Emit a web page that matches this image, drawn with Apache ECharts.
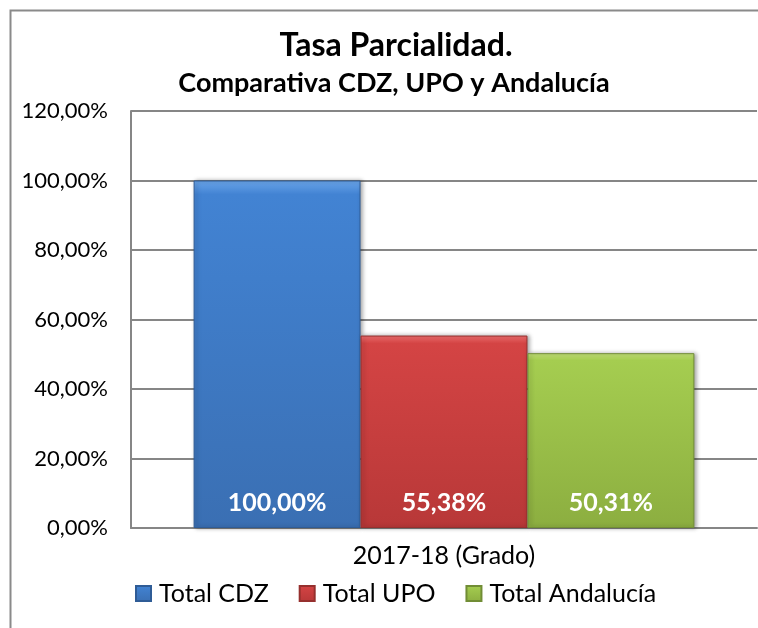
<!DOCTYPE html>
<html>
<head>
<meta charset="utf-8">
<title>Tasa Parcialidad</title>
<script src="https://cdn.jsdelivr.net/npm/echarts@6/dist/echarts.min.js"></script>
<style>
  html, body { margin: 0; padding: 0; background: #fff; }
  #chart { width: 758px; height: 628px; }
</style>
</head>
<body>
<div id="chart"></div>
<script>
// datos
var categories = ['2017-18 (Grado)']
var seriesNames = ['Total CDZ', 'Total UPO', 'Total Andalucía']
var totalCDZ = [1.0]
var totalUPO = [0.5538]
var totalAndalucia = [0.5031]
var yTicks = [0, 0.2, 0.4, 0.6, 0.8, 1.0, 1.2]

var FONT = 'Lato, "Open Sans", sans-serif'

function pct (v) {
  return (v * 100).toFixed(2).replace('.', ',') + '%'
}

function barColor (top, mid, bottom) {
  return new echarts.graphic.LinearGradient(0, 0, 0, 1, [
    { offset: 0, color: top },
    { offset: 0.04, color: mid },
    { offset: 1, color: bottom }
  ])
}

var colors = [
  barColor('#6aa5ea', '#4283d3', '#3a6fb3'),
  barColor('#f07070', '#d44444', '#b83838'),
  barColor('#c4e27a', '#a5cd50', '#8cae40')
]
var borders = ['#2f5c96', '#96302e', '#718d35']
var dataSets = [totalCDZ, totalUPO, totalAndalucia]

var chart = echarts.init(document.getElementById('chart'))

var option = {
  backgroundColor: '#fff',
  animation: false,
  title: [
    {
      text: 'Tasa Parcialidad.',
      left: 391,
      top: 25,
      textAlign: 'center',
      textStyle: { fontFamily: FONT, fontSize: 32, fontWeight: 'bold', color: '#000' }
    },
    {
      text: 'Comparativa CDZ, UPO y Andalucía',
      left: 389,
      top: 65,
      textAlign: 'center',
      textStyle: { fontFamily: FONT, fontSize: 27, fontWeight: 'bold', color: '#000' }
    }
  ],
  graphic: [
    {
      type: 'rect',
      left: 8,
      top: 8,
      shape: { width: 800, height: 700 },
      style: { fill: 'none', stroke: '#8a8a8a', lineWidth: 2 },
      silent: true
    }
  ],
  legend: {
    data: seriesNames,
    left: 130,
    top: 576,
    itemWidth: 15,
    itemHeight: 15,
    itemGap: 30,
    icon: 'rect',
    textStyle: { fontFamily: FONT, fontSize: 25, color: '#000', padding: [0, 0, 0, 3] }
  },
  grid: {
    left: 131,
    right: 1,
    top: 111,
    bottom: 100
  },
  xAxis: {
    type: 'category',
    data: categories,
    axisTick: { show: false },
    axisLine: { lineStyle: { color: '#868686', width: 2 } },
    axisLabel: { fontFamily: FONT, fontSize: 25, color: '#000', margin: 15 }
  },
  yAxis: {
    type: 'value',
    min: yTicks[0],
    max: yTicks[yTicks.length - 1],
    interval: 0.2,
    axisLine: { show: true, lineStyle: { color: '#868686', width: 2 } },
    axisTick: { show: false },
    splitLine: { lineStyle: { color: '#868686', width: 2 } },
    axisLabel: {
      fontFamily: FONT,
      fontSize: 22,
      color: '#000',
      margin: 23,
      formatter: pct
    }
  },
  series: seriesNames.map(function (name, i) {
    return {
      name: name,
      type: 'bar',
      data: dataSets[i],
      barGap: '0%',
      barCategoryGap: '20%',
      itemStyle: {
        color: colors[i],
        borderColor: borders[i],
        borderWidth: 1,
        shadowColor: 'rgba(0, 0, 0, 0.35)',
        shadowBlur: 4,
        shadowOffsetX: 2,
        shadowOffsetY: 0
      },
      label: {
        show: true,
        position: 'insideBottom',
        distance: 13,
        formatter: function (p) { return pct(p.value) },
        fontFamily: FONT,
        fontSize: 25,
        fontWeight: 'bold',
        color: '#fff'
      }
    }
  })
}

chart.setOption(option)
</script>
</body>
</html>
